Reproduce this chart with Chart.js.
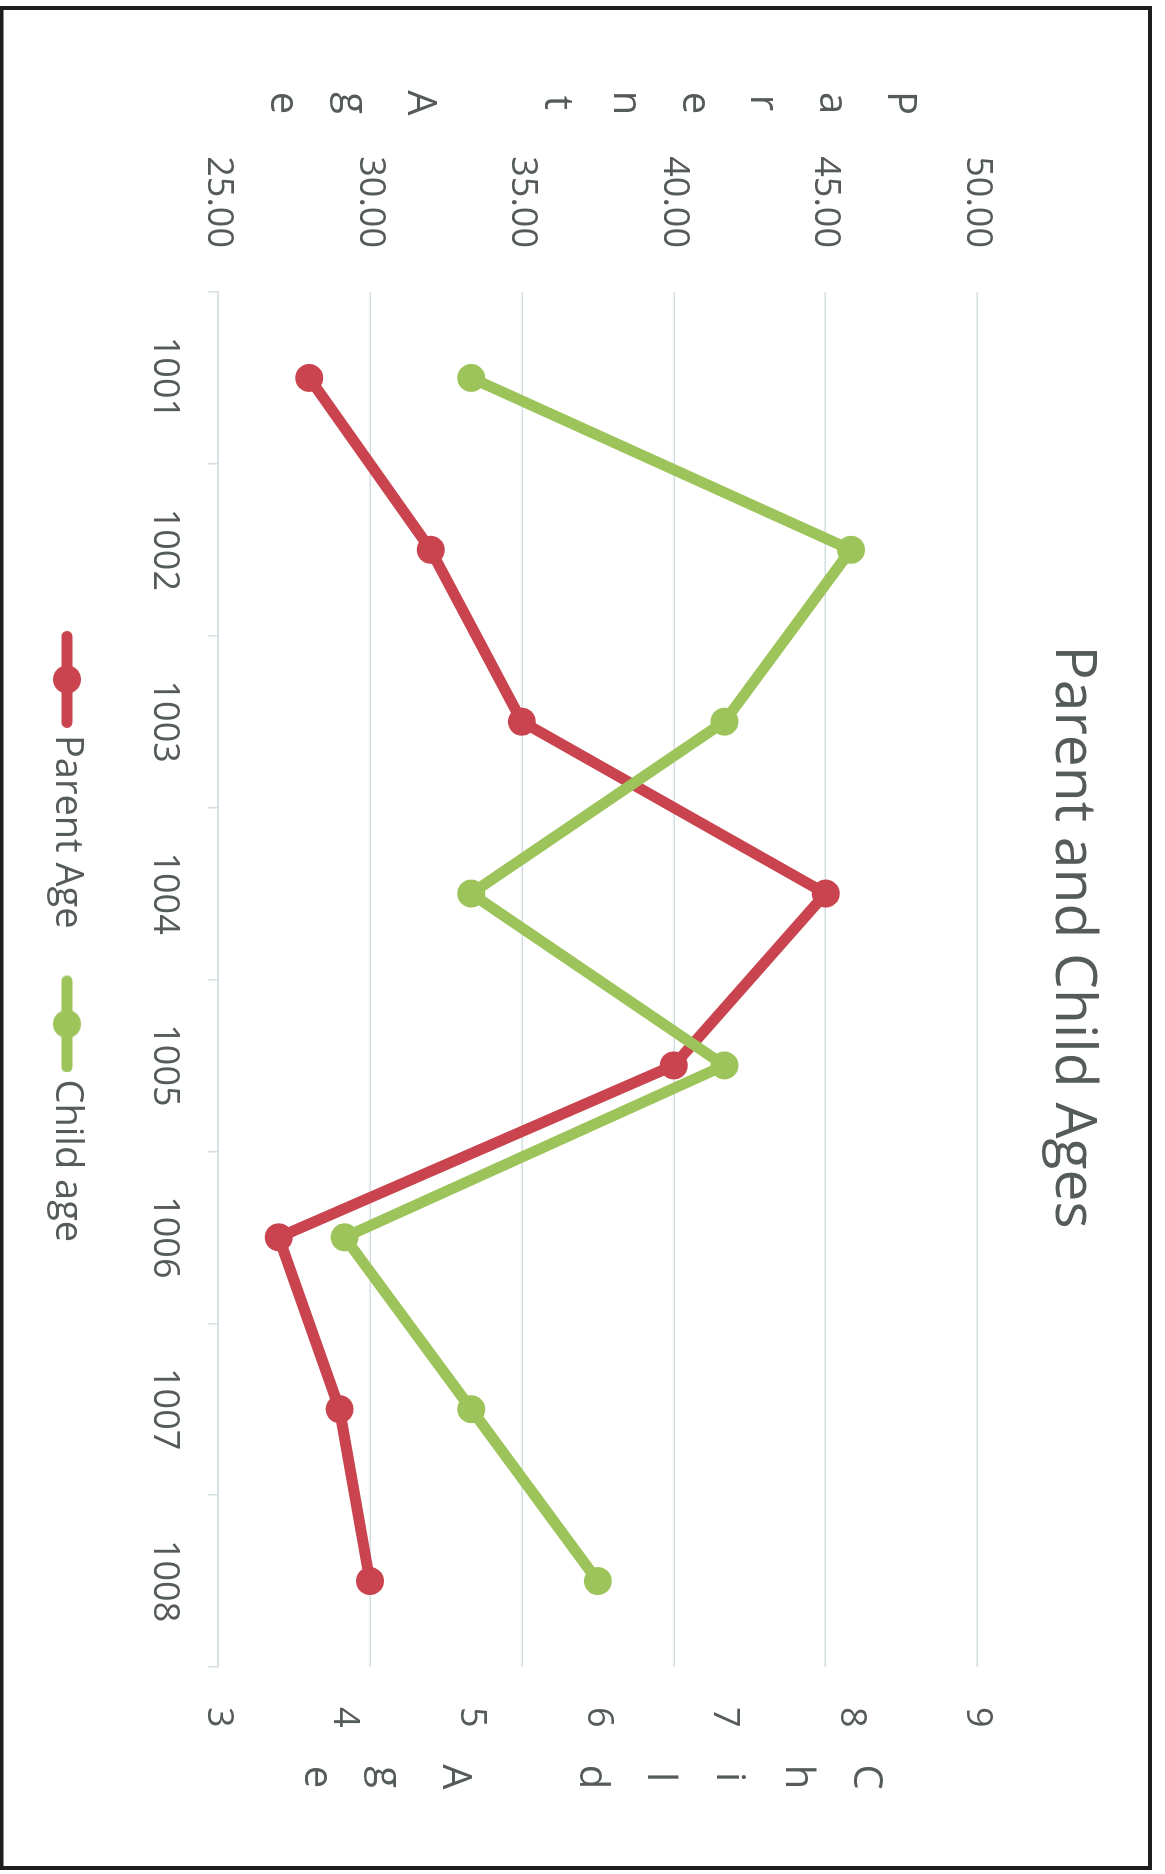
<!DOCTYPE html>
<html>
<head>
<meta charset="utf-8">
<title>Parent and Child Ages</title>
<script src="https://cdn.jsdelivr.net/npm/chart.js@4.4.1/dist/chart.umd.min.js"></script>
<style>
  html, body { margin: 0; padding: 0; width: 1165px; height: 1874px; overflow: hidden; background: #fff; }
  /* the chart is laid out landscape and turned a quarter clockwise onto the page */
  #wrap {
    position: absolute; left: 0; top: 0;
    width: 1874px; height: 1165px;
    transform-origin: 0 0;
    transform: translate(1165px, 0) rotate(90deg);
  }
</style>
</head>
<body>
<div id="wrap"><canvas id="chart" width="1874" height="1165"></canvas></div>
<script>
const categories = ["1001", "1002", "1003", "1004", "1005", "1006", "1007", "1008"];
const parentAge = [28, 32, 35, 45, 40, 27, 29, 30];
const childAge = [5, 8, 7, 5, 7, 4, 5, 6];
const parentTicks = [25, 30, 35, 40, 45, 50];
const childTicks = [3, 4, 5, 6, 7, 8, 9];

const RED = "#C9444F";
const GREEN = "#9DC45A";
const TEXT = "#555a5a";
const GRID = "#D3DDE2";
const FONT = "'Open Sans', sans-serif";

Chart.defaults.font.family = FONT;
Chart.defaults.color = TEXT;

// legend swatch: a short thick line with the marker in the middle
function legendIcon(color) {
    const c = document.createElement("canvas");
    c.width = 108;
    c.height = 32;
    const ctx = c.getContext("2d");
    ctx.strokeStyle = color;
    ctx.lineWidth = 11;
    ctx.lineCap = "round";
    ctx.beginPath();
    ctx.moveTo(16.5, 16);
    ctx.lineTo(102.5, 16);
    ctx.stroke();
    ctx.fillStyle = color;
    ctx.beginPath();
    ctx.arc(59.5, 16, 14, 0, Math.PI * 2);
    ctx.fill();
    return c;
}
const legendIcons = [legendIcon(RED), legendIcon(GREEN)];

// white page with the dark outline around it
const frame = {
    id: "frame",
    beforeDraw(chart) {
        const ctx = chart.ctx;
        ctx.save();
        ctx.fillStyle = "#fff";
        ctx.fillRect(0, 0, chart.width, chart.height);
        ctx.strokeStyle = "#1e1e1e";
        ctx.lineWidth = 4;
        ctx.strokeRect(8, 15, 1860, 1148.5);
        ctx.restore();
    },
};

// axis titles written as a column of upright letters
const stackedTitles = {
    id: "stackedTitles",
    afterDraw(chart) {
        const { ctx, chartArea } = chart;
        const mid = (chartArea.top + chartArea.bottom) / 2;
        const step = 68.6;
        ctx.save();
        ctx.font = "40px " + FONT;
        ctx.fillStyle = TEXT;
        ctx.textAlign = "center";
        ctx.textBaseline = "alphabetic";
        [["Parent Age", chartArea.left - 189], ["Child Age", chartArea.right + 110]].forEach(([text, x]) => {
            const chars = [...text];
            const first = mid - (chars.length - 1) / 2 * step + 18;
            chars.forEach((ch, i) => {
                if (ch !== " ") ctx.fillText(ch, x, first + i * step);
            });
        });
        ctx.restore();
    },
};

new Chart(document.getElementById("chart"), {
    type: "line",
    data: {
        labels: categories,
        datasets: [
            {
                label: "Parent Age",
                data: parentAge,
                yAxisID: "y",
                order: 1,
                borderColor: RED,
                backgroundColor: RED,
                borderWidth: 11,
                borderJoinStyle: "round",
                borderCapStyle: "round",
                pointRadius: 14,
                pointHoverRadius: 14,
                pointBorderWidth: 0,
                pointBackgroundColor: RED,
                tension: 0,
            },
            {
                label: "Child age",
                data: childAge,
                yAxisID: "y1",
                order: 0,
                borderColor: GREEN,
                backgroundColor: GREEN,
                borderWidth: 11,
                borderJoinStyle: "round",
                borderCapStyle: "round",
                pointRadius: 14,
                pointHoverRadius: 14,
                pointBorderWidth: 0,
                pointBackgroundColor: GREEN,
                tension: 0,
            },
        ],
    },
    options: {
        responsive: false,
        animation: false,
        devicePixelRatio: 1,
        layout: { padding: { left: 0, right: 0, top: 0, bottom: 38 } },
        plugins: {
            title: {
                display: true,
                text: "Parent and Child Ages",
                color: TEXT,
                font: { size: 57, weight: "normal" },
                padding: { top: 59, bottom: 60 },
            },
            legend: {
                position: "bottom",
                labels: {
                    usePointStyle: true,
                    pointStyleWidth: 84,
                    padding: 48,
                    color: TEXT,
                    font: { size: 38 },
                    generateLabels: (chart) => chart.data.datasets.map((ds, i) => ({
                        text: ds.label,
                        fillStyle: ds.borderColor,
                        strokeStyle: ds.borderColor,
                        lineWidth: 0,
                        pointStyle: legendIcons[i],
                        fontColor: TEXT,
                        hidden: false,
                        datasetIndex: i,
                    })),
                },
            },
            tooltip: { enabled: false },
        },
        scales: {
            x: {
                offset: true,
                grid: { drawOnChartArea: false, offset: true, tickLength: 10, color: GRID, lineWidth: 1.5 },
                border: { display: true, color: GRID, width: 1.5 },
                ticks: { padding: 22, color: TEXT, font: { size: 36 }, maxRotation: 0, autoSkip: false },
                afterFit(s) { s.height = 84; },
            },
            y: {
                position: "left",
                min: parentTicks[0],
                max: parentTicks[parentTicks.length - 1],
                afterBuildTicks(s) { s.ticks = parentTicks.map((v) => ({ value: v })); },
                ticks: { padding: 44, color: TEXT, font: { size: 36 }, callback: (v) => Number(v).toFixed(2) },
                grid: { color: GRID, lineWidth: 1.5, drawTicks: false },
                border: { display: false },
                afterFit(s) { s.width = 292; },
            },
            y1: {
                position: "right",
                min: childTicks[0],
                max: childTicks[childTicks.length - 1],
                afterBuildTicks(s) { s.ticks = childTicks.map((v) => ({ value: v })); },
                ticks: { padding: 40, color: TEXT, font: { size: 36 }, callback: (v) => String(v) },
                grid: { drawOnChartArea: false, drawTicks: false },
                border: { display: false },
                afterFit(s) { s.width = 207; },
            },
        },
    },
    plugins: [frame, stackedTitles],
});
</script>
</body>
</html>
